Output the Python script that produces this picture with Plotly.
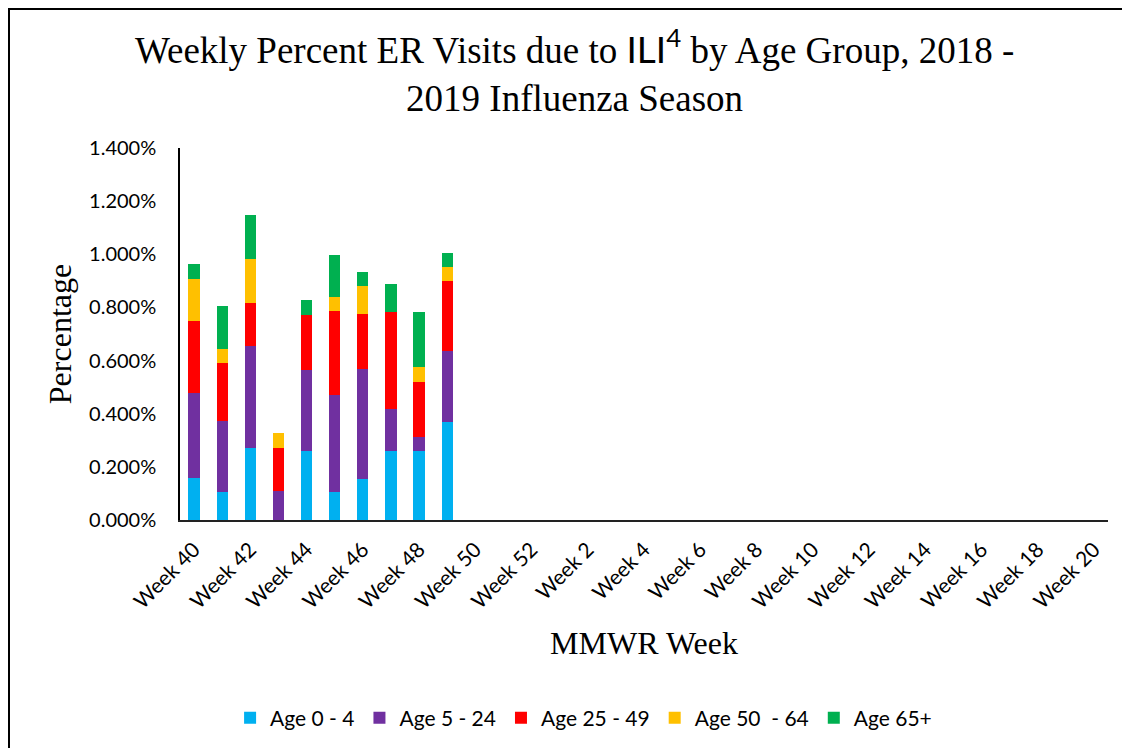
import plotly.graph_objects as go

weeks = [f"Week {w}" for w in list(range(40, 53)) + list(range(1, 21))]
tick_labels = weeks[::2]

series_names = ["Age 0 - 4", "Age 5 - 24", "Age 25 - 49", "Age 50  - 64", "Age 65+"]
colors = ["#00B0F0", "#7030A0", "#FF0000", "#FFC000", "#00B050"]

age_0_4   = [0.159, 0.105, 0.272, 0.000, 0.259, 0.104, 0.154, 0.259, 0.259, 0.370]
age_5_24  = [0.320, 0.268, 0.383, 0.108, 0.307, 0.368, 0.415, 0.157, 0.053, 0.265]
age_25_49 = [0.269, 0.216, 0.163, 0.164, 0.207, 0.315, 0.208, 0.367, 0.209, 0.265]
age_50_64 = [0.159, 0.054, 0.166, 0.056, 0.000, 0.052, 0.103, 0.000, 0.053, 0.052]
age_65    = [0.055, 0.162, 0.163, 0.000, 0.054, 0.158, 0.052, 0.104, 0.209, 0.054]
all_series = [age_0_4, age_5_24, age_25_49, age_50_64, age_65]

# page has an 8px body margin, so the figure is 8px smaller than the window
W, H = 1122, 740
ML, MR, MT, MB = 172, 22, 140, 228
pw, ph = W - ML - MR, H - MT - MB

fig = go.Figure()
for name, col, vals in zip(series_names, colors, all_series):
    fig.add_trace(go.Bar(
        x=weeks[:len(vals)], y=vals, name=name,
        marker=dict(color=col, line=dict(width=0)),
    ))

def px_x(p):
    return (p - ML) / pw

def px_y(p):
    return (H - MB - p) / ph

fig.update_layout(
    width=W, height=H,
    margin=dict(l=ML, r=MR, t=MT, b=MB, pad=0),
    barmode="stack", bargap=0.6,
    plot_bgcolor="white", paper_bgcolor="white",
    font=dict(family="Lato", color="black"),
    title=dict(
        text="Weekly Percent ER Visits due to <span style=\"font-family:Lato\">ILI<sup>4</sup></span> by Age Group, 2018 -<br>2019 Influenza Season",
        font=dict(family="Liberation Serif", size=37, color="black"),
        x=0.505, xref="container", xanchor="center",
        y=1 - 55 / H, yanchor="middle",
    ),
    xaxis=dict(
        categoryorder="array", categoryarray=weeks,
        range=[-0.5, len(weeks) - 0.5],
        tickmode="array", tickvals=tick_labels, ticktext=tick_labels,
        tickangle=-45, tickfont=dict(family="Lato", size=21),
        showline=True, linecolor="#222", linewidth=2,
        showgrid=False, ticks="outside", ticklen=7, tickcolor="rgba(0,0,0,0)",
        zeroline=False,
        title=dict(text="MMWR Week", font=dict(family="Liberation Serif", size=32), standoff=20),
    ),
    yaxis=dict(
        range=[0, 1.4], dtick=0.2, tickformat=".3f", ticksuffix="%",
        tickfont=dict(family="Lato", size=20),
        showline=True, linecolor="black", linewidth=1.5,
        showgrid=False, ticks="outside", ticklen=18, tickcolor="rgba(0,0,0,0)",
        zeroline=False,
        title=dict(text="Percentage", font=dict(family="Liberation Serif", size=32), standoff=8),
    ),
    legend=dict(
        orientation="h", x=0.513, xref="container", xanchor="center",
        y=1 - 710 / H, yref="container", yanchor="middle",
        font=dict(family="Lato", size=21), traceorder="normal",
        itemwidth=30, itemsizing="constant",
    ),
    shapes=[
        dict(type="line", xref="paper", yref="paper",
             x0=px_x(0), x1=px_x(W + 5), y0=px_y(1), y1=px_y(1),
             line=dict(color="black", width=2)),
        dict(type="line", xref="paper", yref="paper",
             x0=px_x(1), x1=px_x(1), y0=px_y(0), y1=px_y(H + 5),
             line=dict(color="black", width=2)),
    ],
)

fig.write_html("out.html")
